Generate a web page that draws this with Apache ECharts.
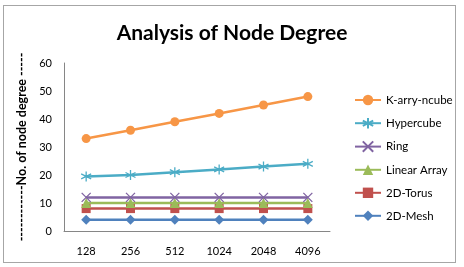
<!DOCTYPE html>
<html>
<head>
<meta charset="utf-8">
<script src="https://cdn.jsdelivr.net/npm/echarts@6/dist/echarts.min.js"></script>
<style>
  html, body { margin: 0; padding: 0; background: #fff; }
  #frame { position: absolute; left: 3px; top: 5px; width: 451px; height: 256px; border: 1px solid #a6a6a6; }
  #chart { position: absolute; left: 0; top: 0; width: 464px; height: 267px; }
</style>
</head>
<body>
<div id="frame"></div>
<div id="chart"></div>
<script>
// data
var categories = ['128', '256', '512', '1024', '2048', '4096'];
var kAryNcube = [33, 36, 39, 42, 45, 48];
var hypercube = [19.5, 20, 21, 22, 23, 24];
var ring = [12, 12, 12, 12, 12, 12];
var linearArray = [10, 10, 10, 10, 10, 10];
var torus2d = [8, 8, 8, 8, 8, 8];
var mesh2d = [4, 4, 4, 4, 4, 4];
var legendOrder = ['K-arry-ncube', 'Hypercube', 'Ring', 'Linear Array', '2D-Torus', '2D-Mesh'];

var FONT = 'Lato';
var starPath = 'path://M0,-5L0,5M-4.3,-2.5L4.3,2.5M-4.3,2.5L4.3,-2.5';
var xPath = 'path://M-4,-4L4,4M-4,4L4,-4';

function line(name, data, color, symbol, size, stroked) {
    var s = {
        name: name,
        type: 'line',
        data: data,
        symbol: symbol,
        symbolSize: size,
        showAllSymbol: true,
        lineStyle: { color: color, width: 2.5 },
        itemStyle: { color: color },
        emphasis: { disabled: true },
        animation: false
    };
    if (stroked) {
        s.itemStyle = { color: color, borderColor: color, borderWidth: 1.3 };
    }
    return s;
}

var chart = echarts.init(document.getElementById('chart'));
chart.setOption({
    backgroundColor: 'transparent',
    title: {
        text: 'Analysis of Node Degree',
        left: 'center',
        top: 18,
        textStyle: { fontFamily: FONT, fontWeight: 'bold', fontSize: 21, color: '#000' }
    },
    legend: {
        orient: 'vertical',
        left: 349,
        top: 89,
        itemGap: 11,
        itemWidth: 26,
        itemHeight: 13,
        data: legendOrder,
        textStyle: { fontFamily: FONT, fontSize: 11.5, color: '#000' }
    },
    grid: { left: 64, right: 134, top: 63, bottom: 36 },
    xAxis: {
        type: 'category',
        data: categories,
        boundaryGap: true,
        axisLine: { lineStyle: { color: '#868686' } },
        axisTick: { show: false },
        axisLabel: { fontFamily: FONT, fontSize: 11, color: '#000', margin: 15 }
    },
    yAxis: {
        type: 'value',
        min: 0,
        max: 60,
        interval: 10,
        name: '------------No. of node degree -----',
        nameLocation: 'middle',
        nameGap: 31,
        nameTextStyle: { fontFamily: FONT, fontWeight: 'bold', fontSize: 12.5, color: '#000' },
        axisLine: { show: true, lineStyle: { color: '#868686' } },
        axisTick: { show: false },
        splitLine: { show: false },
        axisLabel: { fontFamily: FONT, fontSize: 11, color: '#000', margin: 12 }
    },
    series: [
        line('2D-Mesh', mesh2d, '#4F81BD', 'diamond', 10),
        line('2D-Torus', torus2d, '#C0504D', 'rect', 9),
        line('Linear Array', linearArray, '#9BBB59', 'triangle', 10),
        line('Ring', ring, '#8064A2', xPath, 9, true),
        line('Hypercube', hypercube, '#4BACC6', starPath, 10, true),
        line('K-arry-ncube', kAryNcube, '#F79646', 'circle', 9)
    ]
});
</script>
</body>
</html>
